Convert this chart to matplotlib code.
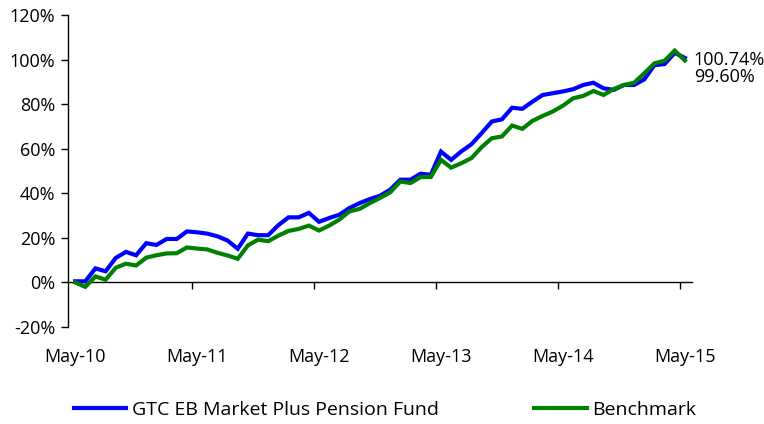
import matplotlib
matplotlib.use("Agg")
import matplotlib.pyplot as plt
import matplotlib.transforms as mtransforms
from matplotlib.ticker import FuncFormatter

# ---- data (cumulative return, %) May-10 .. May-15, monthly ----
fund = [0.5, 0.5, 6.3, 5.0, 11.0, 13.7, 12.2, 17.6, 16.8, 19.5, 19.5, 22.9,
        22.5, 21.9, 20.7, 18.8, 15.1, 21.9, 21.2, 21.2, 25.7, 29.2, 29.2, 31.2,
        27.2, 28.9, 30.4, 33.4, 35.6, 37.4, 38.9, 41.6, 46.1, 46.1, 48.8, 48.3,
        58.7, 55.0, 58.8, 62.0, 67.0, 72.2, 73.2, 78.4, 77.9, 81.1, 84.1, 84.9,
        85.7, 86.7, 88.6, 89.6, 87.1, 86.4, 88.6, 88.6, 91.1, 97.5, 98.0, 103.0,
        100.74]
bench = [0.0, -2.0, 2.7, 1.2, 6.6, 8.4, 7.6, 11.1, 12.2, 13.0, 13.1, 15.7,
         15.2, 14.8, 13.3, 12.1, 10.6, 16.6, 19.2, 18.5, 21.0, 23.1, 24.0, 25.5,
         23.3, 25.5, 28.2, 31.9, 33.0, 35.6, 37.9, 40.4, 45.3, 44.6, 47.3, 47.3,
         55.0, 51.5, 53.5, 55.8, 60.7, 64.7, 65.5, 70.4, 68.9, 72.5, 74.7, 76.7,
         79.3, 82.6, 83.7, 85.9, 84.1, 86.8, 88.6, 89.6, 93.8, 98.3, 99.5, 104.0,
         99.60]
x_labels = ["May-10", "May-11", "May-12", "May-13", "May-14", "May-15"]
label_idx = [0, 12, 24, 36, 48, 60]
y_ticks = [-20, 0, 20, 40, 60, 80, 100, 120]
series_names = ["GTC EB Market Plus Pension Fund", "Benchmark"]
end_labels = ["100.74%", "99.60%"]

plt.rcParams['font.family'] = ['Open Sans', 'DejaVu Sans']
FS = 13
LFS = 14

fig = plt.figure(figsize=(7.64, 4.24), dpi=100)
ax = fig.add_axes([68/764, 1-327/424, (692-68)/764, (327-15)/424])

n = len(fund)
xs = list(range(n))
l1, = ax.plot(xs, fund, color='#0000FF', lw=3.0, solid_joinstyle='miter', label=series_names[0], zorder=3)
l2, = ax.plot(xs, bench, color='#008000', lw=3.0, solid_joinstyle='miter', label=series_names[1], zorder=4)

ax.set_xlim(-0.7, n - 0.3)
ax.set_ylim(-20, 120)

ax.spines['top'].set_visible(False)
ax.spines['right'].set_visible(False)
ax.spines['bottom'].set_position(('data', 0))
for s in ('left', 'bottom'):
    ax.spines[s].set_linewidth(1.0)
    ax.spines[s].set_color('black')

ax.set_yticks(y_ticks)
ax.yaxis.set_major_formatter(FuncFormatter(lambda v, p: f"{v:.0f}%"))
ax.tick_params(axis='y', direction='out', length=5, width=1, labelsize=FS, pad=4)

ax.set_xticks([i + 11.5 for i in range(0, n - 1, 12)])
ax.set_xticklabels([])
ax.tick_params(axis='x', direction='out', length=5, width=1)

trans = mtransforms.blended_transform_factory(ax.transData, ax.transAxes)
for idx, lab in zip(label_idx, x_labels):
    ax.text(idx, -0.096, lab, transform=trans, ha='center', va='center', fontsize=FS)

ax.annotate(end_labels[0], xy=(n - 1, fund[-1]), xytext=(9, -2), textcoords='offset pixels',
            ha='left', va='center', fontsize=FS)
ax.annotate(end_labels[1], xy=(n - 1, bench[-1]), xytext=(9, -17), textcoords='offset pixels',
            ha='left', va='center', fontsize=FS)

leg = fig.legend(handles=[l1, l2], loc='center', bbox_to_anchor=(385/764, 1-410/424), ncol=2,
                 frameon=False, fontsize=LFS, handlelength=2.7, columnspacing=4.9, handletextpad=0.3)

fig.savefig("out.png", dpi=100)
